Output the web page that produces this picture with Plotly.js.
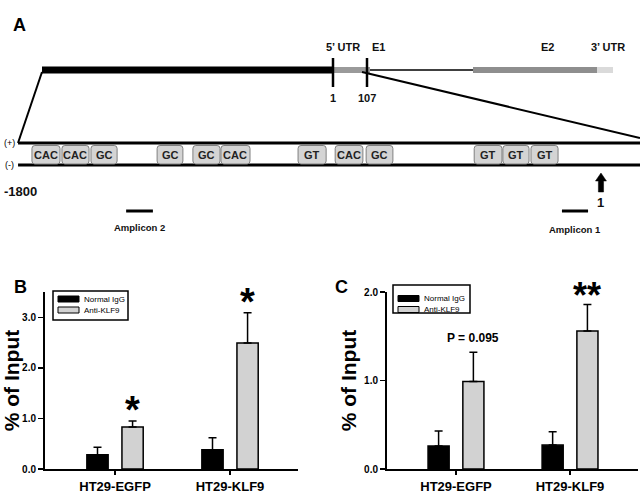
<!DOCTYPE html>
<html>
<head>
<meta charset="utf-8">
<script src="https://cdn.plot.ly/plotly-3.0.1.min.js"></script>
<style>
  html, body { margin: 0; padding: 0; background: #fff; }
  #chart { width: 640px; height: 498px; }
</style>
</head>
<body>
<div id="chart"></div>
<script>
const categories = ["HT29-EGFP", "HT29-KLF9"];
const seriesNames = ["Normal IgG", "Anti-KLF9"];
const seriesColors = ["#000000", "#d2d2d2"];

// panel B
const bIgG = [0.28, 0.38];
const bIgGErr = [0.15, 0.24];
const bAnti = [0.83, 2.49];
const bAntiErr = [0.12, 0.6];
const bMarks = ["*", "*"];

// panel C
const cIgG = [0.26, 0.27];
const cIgGErr = [0.17, 0.15];
const cAnti = [0.99, 1.56];
const cAntiErr = [0.33, 0.3];
const cMarks = ["P = 0.095", "**"];

// promoter map (bp from TSS)
const motifLabels = ["CAC", "CAC", "GC", "GC", "GC", "CAC", "GT", "CAC", "GC", "GT", "GT", "GT"];
const motifStart = [-1763, -1670, -1580, -1375, -1264, -1177, -938, -823, -727, -392, -303, -216];
const motifEnd = [-1676, -1586, -1499, -1295, -1180, -1087, -851, -737, -644, -306, -222, -132];
const ampliconNames = ["Amplicon 2", "Amplicon 1"];
const ampliconStart = [-1471, -120];
const ampliconEnd = [-1388, -39];
const tssPos = 1;

// gene map (schematic units)
const geneStart = [42, 333, 370, 473, 597];
const geneEnd = [333, 370, 473, 597, 613];
const geneColors = ["#000000", "#9a9a9a", "#000000", "#8e8e8e", "#dadada"];
const geneWidths = [7, 6, 1.5, 6, 6];
const geneLabels = ["5’ UTR", "E1", "E2", "3’ UTR"];
const geneLabelX = [343, 378, 547, 608];
const exonMarks = ["1", "107"];
const exonMarkX = [333, 367];

const FONT = "Liberation Sans, Arial, sans-serif";
const px = (v) => v / 640;
const py = (v) => 1 - v / 498;

function roundRect(x0, x1, y0, y1, rx, ry) {
  return `M${x0 + rx},${y0} L${x1 - rx},${y0} Q${x1},${y0} ${x1},${y0 + ry} ` +
    `L${x1},${y1 - ry} Q${x1},${y1} ${x1 - rx},${y1} L${x0 + rx},${y1} ` +
    `Q${x0},${y1} ${x0},${y1 - ry} L${x0},${y0 + ry} Q${x0},${y0} ${x0 + rx},${y0} Z`;
}

function barPair(ax, ay, igg, iggErr, anti, antiErr) {
  const common = (vals, errs, i, offset) => ({
    type: "bar",
    x: categories,
    y: vals,
    xaxis: ax,
    yaxis: ay,
    name: seriesNames[i],
    width: 0.185,
    offset: offset,
    showlegend: false,
    marker: { color: seriesColors[i], line: { color: "#000", width: 1.5 } },
    error_y: {
      type: "data", array: errs, arrayminus: errs.map(() => 0), symmetric: false,
      color: "#000", thickness: 1.5, width: 4,
    },
  });
  return [common(igg, iggErr, 0, -0.245), common(anti, antiErr, 1, 0.06)];
}

const traces = [
  ...barPair("x", "y", bIgG, bIgGErr, bAnti, bAntiErr),
  ...barPair("x2", "y2", cIgG, cIgGErr, cAnti, cAntiErr),
];

const shapes = [];
const annotations = [];

// gene map
geneStart.forEach((s, i) => {
  shapes.push({ type: "line", xref: "x4", yref: "y3", x0: s, x1: geneEnd[i], y0: 70, y1: 70,
    line: { color: geneColors[i], width: geneWidths[i] } });
});
exonMarkX.forEach((x, i) => {
  shapes.push({ type: "line", xref: "x4", yref: "y3", x0: x, x1: x, y0: 58, y1: 87,
    line: { color: "#000", width: 2.5 } });
  annotations.push({ xref: "x4", yref: "y3", x: x, y: 98, text: exonMarks[i], showarrow: false,
    font: { family: FONT, size: 11, color: "#111", weight: "bold" } });
});
geneLabels.forEach((t, i) => {
  annotations.push({ xref: "x4", yref: "y3", x: geneLabelX[i], y: 47, text: t, showarrow: false,
    font: { family: FONT, size: 11, color: "#111", weight: "bold" } });
});
// zoom lines
shapes.push({ type: "line", xref: "x4", yref: "y3", x0: 42, y0: 72, x1: 18, y1: 143, line: { color: "#000", width: 2 } });
shapes.push({ type: "line", xref: "x4", yref: "y3", x0: 362, y0: 72, x1: 640, y1: 138, line: { color: "#000", width: 2 } });

// promoter strands
[143, 165].forEach((y, i) => {
  shapes.push({ type: "line", xref: "x3", yref: "y3", x0: -1806, x1: 122, y0: y, y1: y,
    line: { color: "#000", width: 3 } });
  annotations.push({ xref: "x4", yref: "y3", x: 9, y: y, text: i === 0 ? "(+)" : "(-)", showarrow: false,
    font: { family: FONT, size: 9, color: "#000" } });
});
motifLabels.forEach((t, i) => {
  shapes.push({ type: "path", xref: "x3", yref: "y3", path: roundRect(motifStart[i], motifEnd[i], 145.5, 164, 9, 3),
    fillcolor: "#d4d4d4", line: { color: "#808080", width: 1 }, layer: "above" });
  annotations.push({ xref: "x3", yref: "y3", x: (motifStart[i] + motifEnd[i]) / 2, y: 155, text: t, showarrow: false,
    font: { family: FONT, size: 11, color: "#222", weight: "bold" } });
});
annotations.push({ xref: "x4", yref: "y3", x: 20, y: 191, text: "-1800", showarrow: false,
  font: { family: FONT, size: 13, color: "#111", weight: "bold" } });
// TSS arrow
const a = tssPos;
shapes.push({ type: "path", xref: "x3", yref: "y3", fillcolor: "#000", line: { color: "#000", width: 0.5 },
  path: `M${a},173 L${a + 17},181 L${a + 8},181 L${a + 8},192 L${a - 8},192 L${a - 8},181 L${a - 17},181 Z` });
annotations.push({ xref: "x3", yref: "y3", x: tssPos, y: 202, text: "1", showarrow: false,
  font: { family: FONT, size: 13, color: "#111", weight: "bold" } });
ampliconNames.forEach((t, i) => {
  shapes.push({ type: "line", xref: "x3", yref: "y3", x0: ampliconStart[i], x1: ampliconEnd[i], y0: 211, y1: 211,
    line: { color: "#000", width: 3 } });
  annotations.push({ xref: "x3", yref: "y3", x: (ampliconStart[i] + ampliconEnd[i]) / 2, y: i === 0 ? 227 : 229,
    text: t, showarrow: false, font: { family: FONT, size: 9.5, color: "#111", weight: "bold" } });
});

// panel labels
[["A", 11, 13], ["B", 12, 287], ["C", 341, 287]].forEach(([t, x, y]) => {
  annotations.push({ xref: "paper", yref: "paper", x: px(x), y: py(y), text: t, showarrow: false,
    font: { family: FONT, size: 18, color: "#000", weight: "bold" } });
});

// significance marks
bMarks.forEach((m, i) => {
  annotations.push({ xref: "x", yref: "y", x: i + 0.1525, y: bAnti[i] + bAntiErr[i], yanchor: "bottom", yshift: -12,
    text: m, showarrow: false, font: { family: FONT, size: 38, color: "#000", weight: "bold" } });
});
cMarks.forEach((m, i) => {
  const big = m.startsWith("*");
  annotations.push({ xref: "x2", yref: "y2", x: i + 0.1525, y: cAnti[i] + cAntiErr[i], yanchor: "bottom",
    yshift: big ? -14 : 5, text: m, showarrow: false,
    font: { family: FONT, size: big ? 36 : 12, color: "#000", weight: "bold" } });
});

// legends drawn per panel
[[53, 128, 291, 320, 58, 79, 299, 310], [393, 470, 285, 313, 398, 419, 298.5, 309.5]].forEach(([l, r, t, b, s0, s1, y0, y1]) => {
  shapes.push({ type: "rect", xref: "paper", yref: "paper", x0: px(l), x1: px(r), y0: py(t), y1: py(b),
    line: { color: "#000", width: 1.5 }, fillcolor: "#fff" });
  [y0, y1].forEach((y, i) => {
    shapes.push({ type: "rect", xref: "paper", yref: "paper", x0: px(s0), x1: px(s1), y0: py(y - 3), y1: py(y + 3),
      line: { color: "#000", width: 1 }, fillcolor: seriesColors[i] });
    annotations.push({ xref: "paper", yref: "paper", x: px(s1 + 3), y: py(y), xanchor: "left", text: seriesNames[i],
      showarrow: false, font: { family: FONT, size: 8, color: "#000" } });
  });
});

const xCat = (domain, range) => ({
  domain, range, showline: true, linewidth: 2, linecolor: "#000",
  ticks: "outside", ticklen: 4, tickwidth: 1.5, tickcolor: "#000", showgrid: false, zeroline: false,
  tickfont: { family: FONT, size: 13, color: "#000", weight: "bold" }, fixedrange: true,
});
const yVal = (domain, range, standoff) => ({
  domain, range, showline: true, linewidth: 2, linecolor: "#000",
  ticks: "outside", ticklen: 5, tickwidth: 1.5, tickcolor: "#000", showgrid: false, zeroline: false,
  dtick: 1, tickformat: ".1f",
  tickfont: { family: FONT, size: 10, color: "#000", weight: "bold" },
  title: { text: "% of Input", standoff, font: { family: FONT, size: 21, color: "#000", weight: "bold" } },
});

const layout = {
  width: 640,
  height: 498,
  margin: { l: 0, r: 0, t: 0, b: 0 },
  paper_bgcolor: "#fff",
  plot_bgcolor: "rgba(0,0,0,0)",
  showlegend: false,
  barmode: "group",
  xaxis: { ...xCat([px(45), px(298)], [-0.609, 1.591]), anchor: "y" },
  yaxis: { ...yVal([py(469), py(292)], [0, 3.5], 4), anchor: "x" },
  xaxis2: { ...xCat([px(387), px(638)], [-0.605, 1.596]), anchor: "y2" },
  yaxis2: { ...yVal([py(469), py(292)], [0, 2], 2), anchor: "x2" },
  xaxis3: { domain: [0, 1], range: [-1862, 122], visible: false, anchor: "y3", fixedrange: true },
  xaxis4: { domain: [0, 1], range: [0, 640], visible: false, anchor: "y3", fixedrange: true },
  yaxis3: { domain: [0, 1], range: [498, 0], visible: false, anchor: "x3", fixedrange: true },
  shapes,
  annotations,
};

Plotly.newPlot("chart", traces, layout, { displayModeBar: false, staticPlot: true });
</script>
</body>
</html>
